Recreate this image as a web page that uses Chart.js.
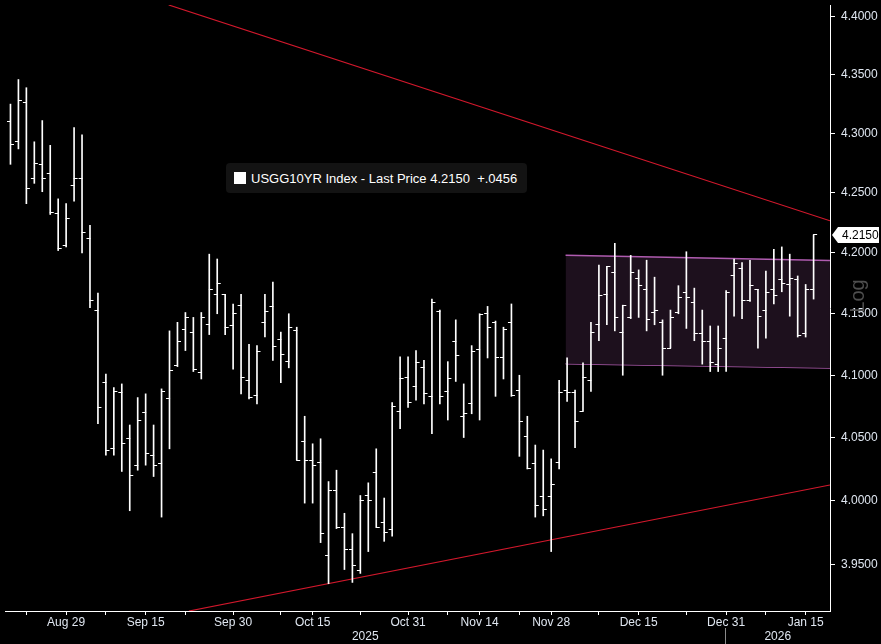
<!DOCTYPE html>
<html>
<head>
<meta charset="utf-8">
<script src="https://cdn.jsdelivr.net/npm/chart.js@4.4.1/dist/chart.umd.min.js"></script>
<style>
  html, body { margin: 0; padding: 0; background: #000; }
  #wrap { position: relative; width: 881px; height: 644px; }
  #legend {
    position: absolute; left: 226px; top: 163px; width: 301px; height: 30px;
    background: #131313; border-radius: 4px;
    font: 13px "Liberation Sans", Arial, sans-serif; color: #fff;
    display: flex; align-items: center; white-space: pre;
  }
  #legend .sw { width: 12px; height: 12px; background: #fff; margin: 0 5px 0 8px; }
</style>
</head>
<body>
<div id="wrap">
  <canvas id="chart1" width="881" height="644"></canvas>
  <div id="legend"><span class="sw"></span>USGG10YR Index - Last Price 4.2150  +.0456</div>
</div>
<script>
// trading days shown on the chart
let dates = [
  '2025-08-20','2025-08-21','2025-08-22','2025-08-25','2025-08-26','2025-08-27','2025-08-28','2025-08-29',
  '2025-09-02','2025-09-03','2025-09-04','2025-09-05','2025-09-08','2025-09-09','2025-09-10','2025-09-11','2025-09-12',
  '2025-09-15','2025-09-16','2025-09-17','2025-09-18','2025-09-19','2025-09-22','2025-09-23','2025-09-24','2025-09-25',
  '2025-09-26','2025-09-29','2025-09-30',
  '2025-10-01','2025-10-02','2025-10-03','2025-10-06','2025-10-07','2025-10-08','2025-10-09','2025-10-10','2025-10-14',
  '2025-10-15','2025-10-16','2025-10-17','2025-10-20','2025-10-21','2025-10-22','2025-10-23','2025-10-24','2025-10-27',
  '2025-10-28','2025-10-29','2025-10-30','2025-10-31',
  '2025-11-03','2025-11-04','2025-11-05','2025-11-06','2025-11-07','2025-11-10','2025-11-12','2025-11-13','2025-11-14',
  '2025-11-17','2025-11-18','2025-11-19','2025-11-20','2025-11-21','2025-11-24','2025-11-25','2025-11-26','2025-11-28',
  '2025-12-01','2025-12-02','2025-12-03','2025-12-04','2025-12-05','2025-12-08','2025-12-09','2025-12-10','2025-12-11',
  '2025-12-12','2025-12-15','2025-12-16','2025-12-17','2025-12-18','2025-12-19','2025-12-22','2025-12-23','2025-12-24',
  '2025-12-26','2025-12-29','2025-12-30','2025-12-31',
  '2026-01-02','2026-01-05','2026-01-06','2026-01-07','2026-01-08','2026-01-09','2026-01-12','2026-01-13','2026-01-14',
  '2026-01-15','2026-01-16'
]

let open = [4.310,4.293,4.326,4.262,4.274,4.266,4.233,4.206,4.256,4.262,
  4.212,4.153,4.094,4.041,4.086,4.049,4.028,4.070,4.036,4.029,
  4.081,4.108,4.137,4.135,4.102,4.141,4.166,4.166,4.140,4.157,
  4.096,4.084,4.143,4.156,4.129,4.111,4.136,4.047,4.032,4.030,
  3.957,4.008,3.979,3.962,3.945,4.004,4.022,3.983,3.977,4.071,
  4.098,4.091,4.106,4.083,4.152,4.087,4.127,4.067,4.077,4.121,
  4.150,4.143,4.114,4.143,4.088,4.051,4.029,4.003,4.003,4.030,
  4.088,4.086,4.071,4.096,4.141,4.166,4.184,4.135,4.147,4.179,
  4.170,4.151,4.143,4.122,4.151,4.167,4.159,4.134,4.127,4.109,
  4.130,4.181,4.187,4.161,4.170,4.153,4.170,4.178,4.174,4.178,
  4.134,4.170]

let high = [4.325,4.346,4.339,4.293,4.311,4.290,4.245,4.241,4.305,4.299,
  4.223,4.167,4.101,4.090,4.093,4.060,4.082,4.085,4.060,4.089,
  4.136,4.143,4.151,4.147,4.151,4.199,4.195,4.166,4.158,4.166,
  4.125,4.124,4.166,4.176,4.135,4.150,4.139,4.067,4.045,4.049,
  4.015,4.024,3.990,3.974,4.004,4.014,4.041,4.002,4.078,4.115,
  4.115,4.120,4.112,4.162,4.153,4.111,4.145,4.093,4.124,4.150,
  4.156,4.144,4.139,4.158,4.100,4.067,4.044,4.040,4.033,4.096,
  4.114,4.088,4.110,4.143,4.190,4.189,4.208,4.157,4.198,4.186,
  4.194,4.180,4.145,4.153,4.173,4.201,4.171,4.153,4.140,4.140,
  4.169,4.195,4.192,4.194,4.170,4.185,4.203,4.205,4.199,4.181,
  4.174,4.215]

let low = [4.274,4.287,4.241,4.258,4.251,4.232,4.202,4.205,4.243,4.200,
  4.155,4.061,4.036,4.036,4.023,3.992,4.024,4.028,4.019,3.987,
  4.041,4.107,4.120,4.103,4.097,4.133,4.150,4.133,4.105,4.085,
  4.081,4.077,4.131,4.112,4.094,4.106,4.032,3.998,3.998,3.967,
  3.935,3.978,3.946,3.936,3.943,3.960,3.979,3.968,3.972,4.057,
  4.074,4.080,4.077,4.053,4.077,4.064,4.095,4.050,4.069,4.064,
  4.114,4.083,4.097,4.083,4.035,4.025,3.987,3.988,3.960,4.025,
  4.079,4.042,4.071,4.087,4.128,4.141,4.136,4.100,4.146,4.147,
  4.136,4.141,4.100,4.122,4.150,4.138,4.128,4.109,4.103,4.103,
  4.103,4.148,4.146,4.160,4.122,4.130,4.158,4.168,4.148,4.131,
  4.131,4.162]

let close = [4.291,4.328,4.254,4.275,4.262,4.234,4.204,4.229,4.262,4.217,
  4.161,4.074,4.040,4.087,4.045,4.020,4.064,4.037,4.028,4.087,
  4.104,4.127,4.147,4.105,4.147,4.170,4.175,4.139,4.150,4.098,
  4.082,4.119,4.152,4.123,4.117,4.139,4.032,4.032,4.028,3.974,
  4.008,3.979,3.962,3.949,4.000,4.000,3.979,3.975,4.075,4.097,
  4.078,4.110,4.085,4.159,4.083,4.097,4.116,4.069,4.119,4.149,
  4.139,4.114,4.137,4.084,4.063,4.025,3.996,3.993,4.013,4.086,
  4.086,4.063,4.098,4.135,4.165,4.189,4.147,4.157,4.184,4.173,
  4.145,4.153,4.122,4.147,4.163,4.163,4.134,4.127,4.110,4.122,
  4.167,4.191,4.161,4.173,4.148,4.167,4.165,4.175,4.179,4.132,
  4.170,4.215]

// x axis: tick marks and the ones that carry a label
let tickDates = ['2025-08-22','2025-08-29','2025-09-08','2025-09-15','2025-09-22','2025-09-30','2025-10-08',
  '2025-10-15','2025-10-23','2025-10-31','2025-11-07','2025-11-14','2025-11-21','2025-11-28','2025-12-08',
  '2025-12-15','2025-12-23','2025-12-31','2026-01-08','2026-01-15']
let labelDates = ['2025-08-29','2025-09-15','2025-09-30','2025-10-15','2025-10-31','2025-11-14','2025-11-28',
  '2025-12-15','2025-12-31','2026-01-15']
let labelNames = ['Aug 29','Sep 15','Sep 30','Oct 15','Oct 31','Nov 14','Nov 28','Dec 15','Dec 31','Jan 15']
let years = ['2025', '2026']

// y axis
let yTicks = [3.95, 4.00, 4.05, 4.10, 4.15, 4.20, 4.25, 4.30, 4.35, 4.40]
let yMin = 3.9139
let yMax = 4.4103

// drawn lines: [start index, start value] -> [end index, end value]
let upperTrend = [[19.9, 4.4103], [103.06, 4.2267]]
let lowerTrend = [[22.44, 3.9139], [103.06, 4.0123]]
let channelTop = [[69.81, 4.1980], [103.06, 4.1937]]
let channelBottom = [[69.81, 4.1094], [103.06, 4.1058]]

let lastPrice = close[close.length - 1]

// little canvases used as point styles for the open (left) and close (right) ticks
function tickImage(side) {
  let c = document.createElement('canvas')
  c.width = 9
  c.height = 1
  let g = c.getContext('2d')
  g.fillStyle = '#ffffff'
  if (side == 'left') g.fillRect(1, 0, 4, 1)
  else g.fillRect(4, 0, 4, 1)
  return c
}
let openTick = tickImage('left')
let closeTick = tickImage('right')

let idx = dates.map((d, i) => i)
let tickIdx = tickDates.map(d => dates.indexOf(d))
let labelMap = {}
labelDates.forEach((d, k) => { labelMap[dates.indexOf(d)] = labelNames[k] })
let yearSplit = dates.indexOf('2025-12-31')

let toPts = arr => arr.map(p => ({ x: p[0], y: p[1] }))

let extras = {
  id: 'extras',
  afterDraw(chart) {
    let ctx = chart.ctx
    let area = chart.chartArea
    let ys = chart.scales.y
    let xs = chart.scales.x
    ctx.save()

    // last price tag
    let py = Math.round(ys.getPixelForValue(lastPrice))
    ctx.fillStyle = '#ffffff'
    ctx.beginPath()
    ctx.moveTo(area.right + 2, py)
    ctx.lineTo(area.right + 8, py - 8)
    ctx.lineTo(879, py - 8)
    ctx.lineTo(879, py + 8)
    ctx.lineTo(area.right + 8, py + 8)
    ctx.closePath()
    ctx.fill()
    ctx.fillStyle = '#000000'
    ctx.font = '12px "Liberation Sans", Arial, sans-serif'
    ctx.textBaseline = 'middle'
    ctx.textAlign = 'left'
    ctx.fillText(lastPrice.toFixed(4), area.right + 12, py + 1)

    // year row
    let sx = Math.round(xs.getPixelForValue(yearSplit)) - 0.5
    ctx.strokeStyle = '#8a8a8a'
    ctx.lineWidth = 1
    ctx.beginPath()
    ctx.moveTo(sx, area.bottom + 17)
    ctx.lineTo(sx, 644)
    ctx.stroke()
    ctx.fillStyle = '#dfe6f0'
    ctx.font = '12px "Liberation Sans", Arial, sans-serif'
    ctx.textAlign = 'center'
    ctx.fillText(years[0], (area.left + sx) / 2, area.bottom + 26)
    ctx.fillText(years[1], (sx + area.right) / 2, area.bottom + 26)
    ctx.restore()
  },
  beforeDatasetsDraw(chart) {
    // "Log" marker sits behind the right axis labels
    let ctx = chart.ctx
    ctx.save()
    ctx.translate(858, 296)
    ctx.rotate(-Math.PI / 2)
    ctx.fillStyle = '#4e4e4e'
    ctx.font = '20px "Liberation Sans", Arial, sans-serif'
    ctx.textAlign = 'center'
    ctx.textBaseline = 'middle'
    ctx.fillText('Log', 0, 0)
    ctx.restore()
  }
}

Chart.defaults.font.family = '"Liberation Sans", Arial, sans-serif'

new Chart(document.getElementById('chart1'), {
  type: 'bar',
  data: {
    datasets: [
      {
        type: 'bar',
        label: 'High-Low',
        data: idx.map(i => ({ x: i, y: [low[i], high[i]] })),
        backgroundColor: '#ffffff',
        borderWidth: 0,
        barThickness: 1,
        order: 1
      },
      {
        type: 'line',
        label: 'Open',
        data: idx.map(i => ({ x: i, y: open[i] })),
        showLine: false,
        pointStyle: openTick,
        pointRadius: 4,
        order: 0
      },
      {
        type: 'line',
        label: 'Close',
        data: idx.map(i => ({ x: i, y: close[i] })),
        showLine: false,
        pointStyle: closeTick,
        pointRadius: 4,
        order: 0
      },
      {
        type: 'line',
        label: 'Channel top',
        data: toPts(channelTop),
        borderColor: '#b05cb0',
        borderWidth: 1.5,
        pointRadius: 0,
        fill: '+1',
        backgroundColor: '#1d101d',
        order: 5
      },
      {
        type: 'line',
        label: 'Channel bottom',
        data: toPts(channelBottom),
        borderColor: '#b05cb0',
        borderWidth: 1.5,
        pointRadius: 0,
        fill: false,
        order: 5
      },
      {
        type: 'line',
        label: 'Upper trend',
        data: toPts(upperTrend),
        borderColor: '#d3182c',
        borderWidth: 1.2,
        pointRadius: 0,
        fill: false,
        order: 4
      },
      {
        type: 'line',
        label: 'Lower trend',
        data: toPts(lowerTrend),
        borderColor: '#d3182c',
        borderWidth: 1.2,
        pointRadius: 0,
        fill: false,
        order: 4
      }
    ]
  },
  options: {
    responsive: false,
    animation: false,
    events: [],
    devicePixelRatio: 1,
    layout: { padding: 0 },
    plugins: {
      legend: { display: false },
      tooltip: { enabled: false }
    },
    scales: {
      x: {
        type: 'linear',
        offset: false,
        min: -0.6875,
        max: 103.0625,
        afterBuildTicks: s => { s.ticks = tickIdx.map(v => ({ value: v })) },
        afterFit: s => { s.height = 33; s.paddingLeft = 0; s.paddingRight = 0 },
        grid: { offset: false, drawOnChartArea: false, drawTicks: true, tickLength: 4, color: '#ffffff' },
        border: { display: true, color: '#ffffff', width: 1 },
        ticks: {
          autoSkip: false,
          maxRotation: 0,
          padding: 0,
          color: '#dfe6f0',
          font: { size: 12 },
          callback: v => labelMap[v] || ''
        }
      },
      y: {
        type: 'logarithmic',
        position: 'right',
        min: yMin,
        max: yMax,
        afterBuildTicks: s => { s.ticks = yTicks.map(v => ({ value: v })) },
        afterFit: s => { s.width = 51; s.paddingTop = 0; s.paddingBottom = 0 },
        grid: { drawOnChartArea: false, drawTicks: true, tickLength: 5, color: '#ffffff' },
        border: { display: true, color: '#ffffff', width: 1 },
        ticks: {
          padding: 6,
          color: '#dfe6f0',
          font: { size: 12 },
          callback: v => Number(v).toFixed(4)
        }
      }
    }
  },
  plugins: [extras]
})
</script>
</body>
</html>
